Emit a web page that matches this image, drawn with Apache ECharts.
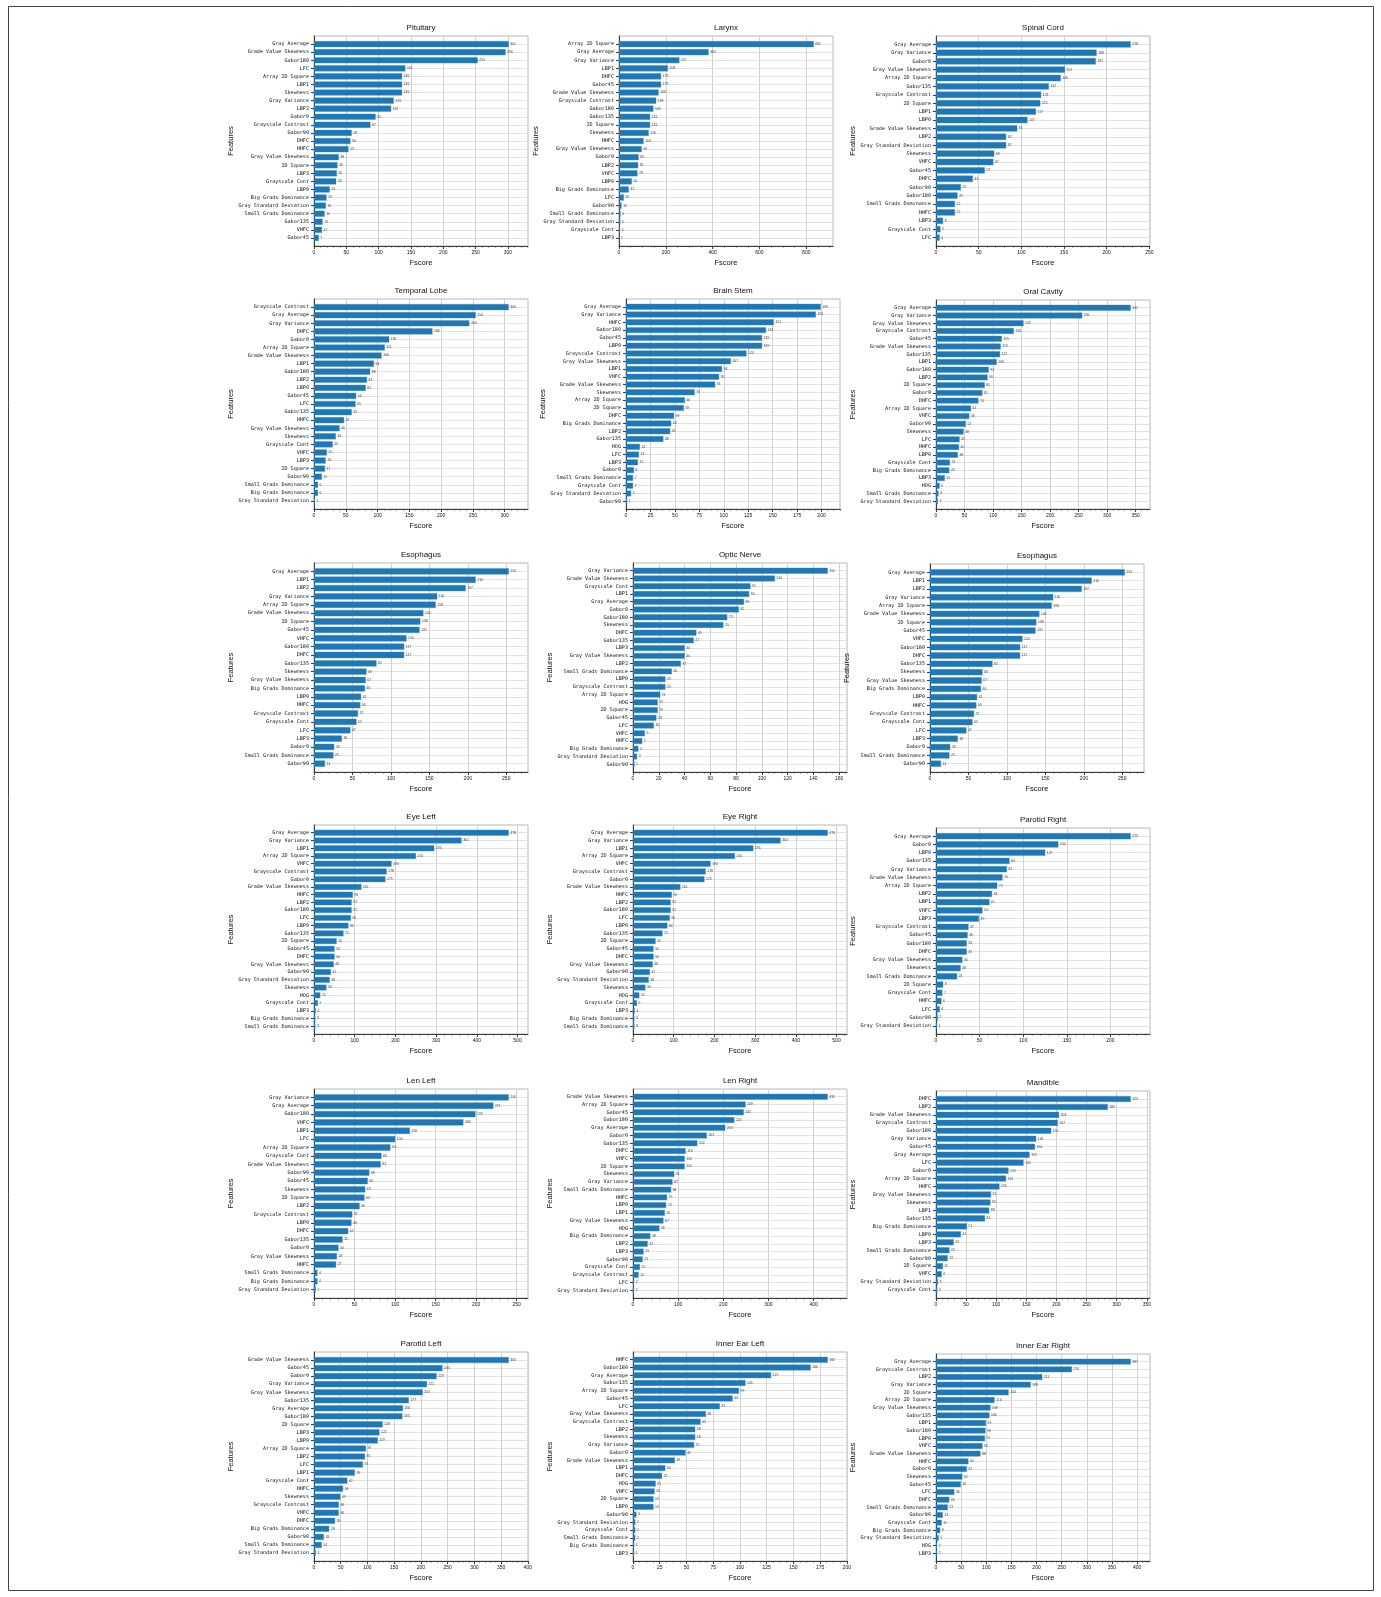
<!DOCTYPE html>
<html>
<head>
<meta charset="utf-8">
<script src="https://cdn.jsdelivr.net/npm/echarts@6/dist/echarts.min.js"></script>
<style>
  html, body { margin: 0; padding: 0; background: #ffffff; }
  #chart { width: 1381px; height: 1597px; }
</style>
</head>
<body>
<div id="chart"></div>
<script>
// Feature importance (Fscore) per organ, sorted from highest to lowest.
const pituitaryFeatures = ['Gray Average','Grade Value Skewness','Gabor180','LFC','Array 2D Square','LBP1','Skewness','Gray Variance','LBP2','Gabor0','Grayscale Contrast','Gabor90','DHFC','HHFC','Gray Value Skewness','2D Square','LBP3','Grayscale Cont','LBP0','Big Grads Dominance','Gray Standard Deviation','Small Grads Dominance','Gabor135','VHFC','Gabor45'];
const pituitaryScores = [301,296,253,141,136,136,136,123,119,95,87,58,56,53,38,36,35,34,24,19,18,16,13,12,7];

const larynxFeatures = ['Array 2D Square','Gray Average','Gray Variance','LBP1','DHFC','Gabor45','Grade Value Skewness','Grayscale Contrast','Gabor180','Gabor135','2D Square','Skewness','HHFC','Gray Value Skewness','Gabor0','LBP2','VHFC','LBP0','Big Grads Dominance','LFC','Gabor90','Small Grads Dominance','Gray Standard Deviation','Grayscale Cont','LBP3'];
const larynxScores = [831,382,257,208,179,179,168,158,146,132,132,126,104,96,83,81,78,54,41,20,10,6,5,4,1];

const spinalCordFeatures = ['Gray Average','Gray Variance','Gabor0','Gray Value Skewness','Array 2D Square','Gabor135','Grayscale Contrast','2D Square','LBP1','LBP0','Grade Value Skewness','LBP2','Gray Standard Deviation','Skewness','VHFC','Gabor45','DHFC','Gabor90','Gabor180','Small Grads Dominance','HHFC','LBP3','Grayscale Cont','LFC'];
const spinalCordScores = [228,188,187,151,146,132,123,122,117,107,95,82,82,68,67,57,43,29,25,22,22,8,5,4];

const temporalLobeFeatures = ['Grayscale Contrast','Gray Average','Gray Variance','DHFC','Gabor0','Array 2D Square','Grade Value Skewness','LBP1','Gabor180','LBP2','LBP0','Gabor45','LFC','Gabor135','HHFC','Gray Value Skewness','Skewness','Grayscale Cont','VHFC','LBP3','2D Square','Gabor90','Small Grads Dominance','Big Grads Dominance','Gray Standard Deviation'];
const temporalLobeScores = [306,254,244,186,118,111,106,94,88,83,81,66,65,59,47,40,34,29,20,18,17,12,6,6,1];

const brainStemFeatures = ['Gray Average','Gray Variance','HHFC','Gabor180','Gabor45','LBP0','Grayscale Contrast','Gray Value Skewness','LBP1','VHFC','Grade Value Skewness','Skewness','Array 2D Square','2D Square','DHFC','Big Grads Dominance','LBP2','Gabor135','HOG','LFC','LBP3','Gabor0','Small Grads Dominance','Grayscale Cont','Gray Standard Deviation','Gabor90'];
const brainStemScores = [199,194,151,143,139,139,123,107,98,95,91,70,60,59,49,46,45,38,14,13,12,8,7,7,5,1];

const oralCavityFeatures = ['Gray Average','Gray Variance','Gray Value Skewness','Grayscale Contrast','Gabor45','Grade Value Skewness','Gabor135','LBP1','Gabor180','LBP2','2D Square','Gabor0','DHFC','Array 2D Square','VHFC','Gabor90','Skewness','LFC','HHFC','LBP0','Grayscale Cont','Big Grads Dominance','LBP3','HOG','Small Grads Dominance','Gray Standard Deviation'];
const oralCavityScores = [341,256,153,136,115,113,112,106,92,90,85,81,74,61,58,52,48,41,40,38,24,23,15,6,4,3];

const esophagusFeatures = ['Gray Average','LBP1','LBP2','Gray Variance','Array 2D Square','Grade Value Skewness','2D Square','Gabor45','VHFC','Gabor180','DHFC','Gabor135','Skewness','Gray Value Skewness','Big Grads Dominance','LBP0','HHFC','Grayscale Contrast','Grayscale Cont','LFC','LBP3','Gabor0','Small Grads Dominance','Gabor90'];
const esophagusScores = [253,210,197,160,158,142,138,137,120,117,117,81,68,67,66,61,60,57,55,47,36,26,25,14];

const opticNerveFeatures = ['Gray Variance','Grade Value Skewness','Grayscale Cont','LBP1','Gray Average','Gabor0','Gabor180','Skewness','DHFC','Gabor135','LBP3','Gray Value Skewness','LBP2','Small Grads Dominance','LBP0','Grayscale Contrast','Array 2D Square','HOG','2D Square','Gabor45','LFC','VHFC','HHFC','Big Grads Dominance','Gray Standard Deviation','Gabor90'];
const opticNerveScores = [151,110,91,90,86,82,73,70,49,47,40,40,37,30,25,25,21,19,19,18,16,9,7,4,3,1];

const eyeLeftFeatures = ['Gray Average','Gray Variance','LBP1','Array 2D Square','VHFC','Grayscale Contrast','Gabor0','Grade Value Skewness','HHFC','LBP2','Gabor180','LFC','LBP0','Gabor135','2D Square','Gabor45','DHFC','Gray Value Skewness','Gabor90','Gray Standard Deviation','Skewness','HOG','Grayscale Cont','LBP3','Big Grads Dominance','Small Grads Dominance'];
const eyeLeftScores = [478,362,295,250,190,178,175,116,95,92,92,90,84,72,55,50,50,48,41,38,30,15,9,4,3,3];

const eyeRightFeatures = ['Gray Average','Gray Variance','LBP1','Array 2D Square','VHFC','Grayscale Contrast','Gabor0','Grade Value Skewness','HHFC','LBP2','Gabor180','LFC','LBP0','Gabor135','2D Square','Gabor45','DHFC','Gray Value Skewness','Gabor90','Gray Standard Deviation','Skewness','HOG','Grayscale Cont','LBP3','Big Grads Dominance','Small Grads Dominance'];
const eyeRightScores = [478,362,295,250,190,178,175,116,95,92,92,90,84,72,55,50,50,48,41,38,30,15,9,4,3,3];

const parotidRightFeatures = ['Gray Average','Gabor0','LBP0','Gabor135','Gray Variance','Grade Value Skewness','Array 2D Square','LBP2','LBP1','VHFC','LBP3','Grayscale Contrast','Gabor45','Gabor180','DHFC','Gray Value Skewness','Skewness','Small Grads Dominance','2D Square','Grayscale Cont','HHFC','LFC','Gabor90','Gray Standard Deviation'];
const parotidRightScores = [223,140,125,84,81,76,70,64,61,53,49,37,36,35,35,30,28,24,8,7,6,4,2,1];

const lenLeftFeatures = ['Gray Variance','Gray Average','Gabor180','VHFC','LBP1','LFC','Array 2D Square','Grayscale Cont','Grade Value Skewness','Gabor90','Gabor45','Skewness','2D Square','LBP2','Grayscale Contrast','LBP0','DHFC','Gabor135','Gabor0','Gray Value Skewness','HHFC','Small Grads Dominance','Big Grads Dominance','Gray Standard Deviation'];
const lenLeftScores = [240,221,199,184,118,100,94,83,82,68,66,63,62,56,47,46,42,35,30,28,27,4,4,2];

const lenRightFeatures = ['Grade Value Skewness','Array 2D Square','Gabor45','Gabor180','Gray Average','Gabor0','Gabor135','DHFC','VHFC','2D Square','Skewness','Gray Variance','Small Grads Dominance','HHFC','LBP0','LBP1','Gray Value Skewness','HOG','Big Grads Dominance','LBP2','LBP3','Gabor90','Grayscale Cont','Grayscale Contrast','LFC','Gray Standard Deviation'];
const lenRightScores = [431,249,245,224,204,163,142,116,114,114,91,87,84,75,73,70,67,58,38,32,23,21,15,12,2,2];

const mandibleFeatures = ['DHFC','LBP2','Grade Value Skewness','Grayscale Contrast','Gabor180','Gray Variance','Gabor45','Gray Average','LFC','Gabor0','Array 2D Square','HHFC','Gray Value Skewness','Skewness','LBP1','Gabor135','Big Grads Dominance','LBP0','LBP3','Small Grads Dominance','Gabor90','2D Square','VHFC','Gray Standard Deviation','Grayscale Cont'];
const mandibleScores = [323,285,204,202,191,166,164,155,145,120,116,105,91,90,88,81,51,41,29,22,19,11,9,3,2];

const parotidLeftFeatures = ['Grade Value Skewness','Gabor45','Gabor0','Gray Variance','Gray Value Skewness','Gabor135','Gray Average','Gabor180','2D Square','LBP3','LBP0','Array 2D Square','LBP2','LFC','LBP1','Grayscale Cont','HHFC','Skewness','Grayscale Contrast','VHFC','DHFC','Big Grads Dominance','Gabor90','Small Grads Dominance','Gray Standard Deviation'];
const parotidLeftScores = [364,240,229,211,203,177,166,165,128,122,119,97,95,91,76,62,54,49,46,46,39,28,18,14,3];

const innerEarLeftFeatures = ['HHFC','Gabor180','Gray Average','Gabor135','Array 2D Square','Gabor45','LFC','Gray Value Skewness','Grayscale Contrast','LBP2','Skewness','Gray Variance','Gabor0','Grade Value Skewness','LBP1','DHFC','HOG','VHFC','2D Square','LBP0','Gabor90','Gray Standard Deviation','Grayscale Cont','Small Grads Dominance','Big Grads Dominance','LBP3'];
const innerEarLeftScores = [182,166,129,105,99,93,81,68,63,58,58,57,49,39,30,27,21,20,19,19,3,2,2,2,1,1];

const innerEarRightFeatures = ['Gray Average','Grayscale Contrast','LBP2','Gray Variance','2D Square','Array 2D Square','Gray Value Skewness','Gabor135','LBP1','Gabor180','LBP0','VHFC','Grade Value Skewness','HHFC','Gabor0','Skewness','Gabor45','LFC','DHFC','Small Grads Dominance','Gabor90','Grayscale Cont','Big Grads Dominance','Gray Standard Deviation','HOG','LBP3'];
const innerEarRightScores = [387,270,211,188,144,116,108,106,99,98,97,92,88,64,61,52,49,36,26,23,13,11,8,5,2,2];

// Panels in reading order (3 columns x 6 rows), with the x tick step of each.
const panelTitles = ['Pituitary','Larynx','Spinal Cord','Temporal Lobe','Brain Stem','Oral Cavity','Esophagus','Optic Nerve','Esophagus','Eye Left','Eye Right','Parotid Right','Len Left','Len Right','Mandible','Parotid Left','Inner Ear Left','Inner Ear Right'];
const panelFeatures = [pituitaryFeatures, larynxFeatures, spinalCordFeatures, temporalLobeFeatures, brainStemFeatures, oralCavityFeatures, esophagusFeatures, opticNerveFeatures, esophagusFeatures, eyeLeftFeatures, eyeRightFeatures, parotidRightFeatures, lenLeftFeatures, lenRightFeatures, mandibleFeatures, parotidLeftFeatures, innerEarLeftFeatures, innerEarRightFeatures];
const panelScores = [pituitaryScores, larynxScores, spinalCordScores, temporalLobeScores, brainStemScores, oralCavityScores, esophagusScores, opticNerveScores, esophagusScores, eyeLeftScores, eyeRightScores, parotidRightScores, lenLeftScores, lenRightScores, mandibleScores, parotidLeftScores, innerEarLeftScores, innerEarRightScores];
const xTickSteps = [50,200,50, 50,25,50, 50,20,50, 100,100,50, 50,100,50, 50,25,50];

// Layout of each plot area in pixels.
const plotLeft = [314,619,936, 314,626,936, 314,633,930, 314,633,936, 314,633,936, 314,633,936];
const plotTop = [36,36,36, 299,299,300, 563,563,564, 825,825,828, 1089,1089,1091, 1352,1352,1354];
const rowBottom = [246, 509, 772, 1034, 1298, 1561];
const plotWidth = 214;

const BAR_BLUE = '#1f77b4';
const SPINE = '#3a3a3a';
const SANS = '"Liberation Sans", Arial, sans-serif';
const MONO = '"DejaVu Sans Mono", "Liberation Mono", monospace';

function minorDivisions(step) {
  const m = step / Math.pow(10, Math.floor(Math.log10(step)));
  return (m === 1 || m === 5) ? 5 : 4;
}

const grids = [], xAxes = [], yAxes = [], series = [], titles = [];

panelTitles.forEach((title, i) => {
  const feats = panelFeatures[i];
  const scores = panelScores[i];
  const n = feats.length;
  const step = xTickSteps[i];
  const xMax = Math.max(...scores) * 1.1;
  const xTicks = [];
  for (let v = 0; v <= xMax; v += step) xTicks.push(v);
  const yTicks = feats.map((_, k) => k);
  const top = plotTop[i];
  const height = rowBottom[Math.floor(i / 3)] - top;

  grids.push({
    left: plotLeft[i], top: top, width: plotWidth, height: height,
    show: true, borderColor: '#b8b8b8', borderWidth: 1, backgroundColor: 'transparent'
  });

  titles.push({
    text: title,
    left: plotLeft[i] + plotWidth / 2,
    top: top - 12.5,
    textAlign: 'center',
    padding: 0,
    textStyle: { fontSize: 8, fontWeight: 'normal', fontFamily: SANS, color: '#111' }
  });

  xAxes.push({
    gridIndex: i, type: 'value', min: 0, max: xMax, interval: step, position: 'bottom',
    name: 'Fscore', nameLocation: 'middle', nameGap: 13,
    nameTextStyle: { fontSize: 7.5, fontFamily: SANS, color: '#111' },
    axisLine: { show: true, onZero: false, lineStyle: { color: SPINE, width: 1 } },
    axisTick: { show: true, length: 3, customValues: xTicks, lineStyle: { color: SPINE, width: 1 } },
    minorTick: { show: true, splitNumber: minorDivisions(step), length: 1.5, lineStyle: { color: SPINE, width: 0.8 } },
    axisLabel: { customValues: xTicks, fontSize: 5, fontFamily: SANS, color: '#111', margin: 4 },
    splitLine: { show: true, lineStyle: { color: '#d0d0d0', width: 1 } },
    minorSplitLine: { show: false }
  });

  yAxes.push({
    gridIndex: i, type: 'value', inverse: true, min: -1, max: n, interval: 1, position: 'left',
    name: 'Features', nameLocation: 'middle', nameGap: 79, nameRotate: 90,
    nameTextStyle: { fontSize: 7.5, fontFamily: SANS, color: '#111' },
    axisLine: { show: true, onZero: false, lineStyle: { color: SPINE, width: 1 } },
    axisTick: { show: true, length: 3, customValues: yTicks, lineStyle: { color: SPINE, width: 1 } },
    axisLabel: {
      customValues: yTicks, fontSize: 5.1, fontFamily: MONO, color: '#111', margin: 5,
      formatter: v => feats[Math.round(v)] || ''
    },
    splitLine: { show: true, lineStyle: { color: '#e2e2e2', width: 1 } }
  });

  series.push({
    type: 'custom',
    xAxisIndex: i, yAxisIndex: i,
    clip: false,
    encode: { x: 0, y: 1 },
    data: scores.map((s, k) => [s, k]),
    renderItem: (params, api) => {
      const value = api.value(0);
      const idx = api.value(1);
      const end = api.coord([value, idx]);
      const start = api.coord([0, idx]);
      const h = api.size([0, 0.7])[1];
      return {
        type: 'group',
        children: [
          {
            type: 'rect',
            shape: { x: start[0], y: end[1] - h / 2, width: end[0] - start[0], height: h },
            style: { fill: BAR_BLUE, stroke: '#3d8bc4', lineWidth: 0.4 }
          },
          {
            type: 'text',
            x: end[0] + 1.8, y: end[1],
            style: { text: String(value), fontSize: 3.4, fontFamily: SANS, fill: '#444', verticalAlign: 'middle', align: 'left' }
          }
        ]
      };
    }
  });
});

const chart = echarts.init(document.getElementById('chart'), null, { renderer: 'canvas' });
chart.setOption({
  backgroundColor: '#ffffff',
  animation: false,
  title: titles,
  grid: grids,
  xAxis: xAxes,
  yAxis: yAxes,
  series: series,
  graphic: [{
    type: 'rect',
    shape: { x: 8.5, y: 6.5, width: 1365, height: 1584 },
    style: { fill: null, stroke: '#444', lineWidth: 1 },
    silent: true
  }]
});
</script>
</body>
</html>
